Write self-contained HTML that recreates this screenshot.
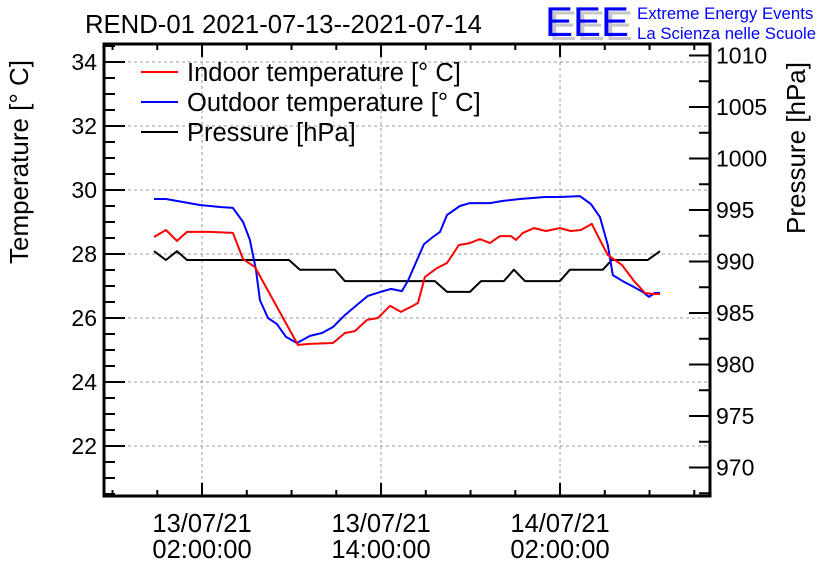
<!DOCTYPE html>
<html><head><meta charset="utf-8"><style>
body{margin:0;background:#fff;}
svg{display:block;font-family:"Liberation Sans",Arial,sans-serif;}
</style></head><body>
<svg id="chart" width="836" height="572" viewBox="0 0 836 572">
<text x="85" y="33" font-size="25.7">REND-01 2021-07-13--2021-07-14</text>
<g>
<text x="549" y="40" font-size="42" fill="#c8c8c8" textLength="84" lengthAdjust="spacingAndGlyphs">EEE</text>
<text x="545" y="36" font-size="42" fill="#0000ff" textLength="84" lengthAdjust="spacingAndGlyphs">EEE</text>
<text x="637" y="19" font-size="16.8" fill="#0000ff">Extreme Energy Events</text>
<text x="637" y="39" font-size="16.8" fill="#0000ff">La Scienza nelle Scuole</text>
</g>
<g id="grid"></g>
<g id="series"></g>
<g id="axes"></g>
<text transform="translate(28,162) rotate(-90)" text-anchor="middle" font-size="26">Temperature [° C]</text>
<text transform="translate(805,148) rotate(-90)" text-anchor="middle" font-size="26">Pressure [hPa]</text>
<g>
<line x1="141" y1="72" x2="178" y2="72" stroke="#ff0000" stroke-width="2"/>
<text x="187" y="81" font-size="25.5">Indoor temperature [° C]</text>
<line x1="141" y1="102" x2="178" y2="102" stroke="#0000ff" stroke-width="2"/>
<text x="187" y="111" font-size="25.5">Outdoor temperature [° C]</text>
<line x1="141" y1="132" x2="178" y2="132" stroke="#000" stroke-width="2"/>
<text x="187" y="141" font-size="25.5">Pressure [hPa]</text>
</g>
</svg>
<script>
// hours since 2021-07-13 00:00
const indoorTimes=[-1.22,-0.42,0.32,0.99,2.53,4.07,4.75,5.55,8.43,9.24,10.78,11.58,12.25,13.06,13.79,14.6,15.33,16.14,16.47,16.94,17.75,18.42,19.22,19.96,20.63,21.3,21.97,22.71,23.05,23.51,24.25,25.05,25.99,26.72,27.4,28.13,28.67,29.2,30.15,30.95,31.7,32.23,32.7];
const indoorTemps=[28.53,28.75,28.41,28.69,28.69,28.66,27.84,27.59,25.16,25.19,25.22,25.53,25.59,25.94,26.0,26.38,26.19,26.38,26.47,27.28,27.56,27.72,28.28,28.34,28.47,28.34,28.56,28.56,28.44,28.66,28.81,28.72,28.81,28.72,28.75,28.94,28.44,27.97,27.66,27.16,26.78,26.75,26.75];
const outdoorTimes=[-1.22,-0.42,1.86,3.2,4.07,4.75,5.21,5.62,5.88,6.42,7.02,7.63,8.36,9.24,10.04,10.78,11.58,12.39,13.12,13.93,14.66,15.4,15.8,16.88,17.48,17.95,18.42,19.29,19.96,21.3,22.17,23.31,24.99,25.99,27.33,28.07,28.67,29.2,29.54,30.28,30.95,31.56,31.96,32.36,32.7];
const outdoorTemps=[29.72,29.72,29.53,29.47,29.44,29.0,28.44,27.5,26.56,26.0,25.81,25.41,25.22,25.44,25.53,25.72,26.09,26.41,26.69,26.81,26.91,26.84,27.16,28.31,28.53,28.69,29.22,29.5,29.59,29.59,29.66,29.72,29.78,29.78,29.81,29.56,29.16,28.28,27.34,27.13,26.97,26.81,26.66,26.78,26.78];
const pressureTimes=[-1.22,-0.42,0.32,0.99,7.83,8.56,10.91,11.58,17.61,18.42,19.96,20.7,22.24,22.91,23.65,25.99,26.66,28.87,29.47,31.88,32.7];
const pressureValues=[991,990.15,991,990.15,990.15,989.2,989.2,988.1,988.1,987.05,987.05,988.1,988.1,989.2,988.1,988.1,989.2,989.2,990.15,990.15,991];
const tempTicks=[22,24,26,28,30,32,34];
const pressTicks=[970,975,980,985,990,995,1000,1005,1010];
const timeTicks=[2,14,26];
const timeTickDates=["13/07/21","13/07/21","14/07/21"];
const timeTickTimes=["02:00:00","14:00:00","02:00:00"];

const L=104,R=710,T=44,B=496;
const xS=t=>172.2+t*179/12;
const yT=v=>254-(v-28)*32;
const yP=p=>261.5-(p-990)*10.3;
const NS='http://www.w3.org/2000/svg';
function mk(parent,tag,attrs){const e=document.createElementNS(NS,tag);for(const k in attrs)e.setAttribute(k,attrs[k]);parent.appendChild(e);return e;}
const grid=document.getElementById('grid'),axes=document.getElementById('axes'),series=document.getElementById('series');

tempTicks.forEach(v=>{const g=mk(grid,'line',{x1:L,x2:R,y1:yT(v),y2:yT(v),stroke:'#999','stroke-dasharray':'3,3','stroke-width':1});

});
timeTicks.forEach(t=>{const g=mk(grid,'line',{x1:xS(t),x2:xS(t),y1:T,y2:B,stroke:'#999','stroke-dasharray':'3,3','stroke-width':1});

});

function path(times,vals,yf,color,name){
  const d=times.map((t,i)=>(i?'L':'M')+xS(t).toFixed(1)+','+yf(vals[i]).toFixed(1)).join('');
  const p=mk(series,'path',{d:d,fill:'none',stroke:color,'stroke-width':2,'stroke-linejoin':'round'});
  
  
}
path(pressureTimes,pressureValues,yP,'#000','pressure-line');
path(outdoorTimes,outdoorTemps,yT,'#0000ff','outdoor-temperature-line');
path(indoorTimes,indoorTemps,yT,'#ff0000','indoor-temperature-line');

const frame=mk(axes,'rect',{x:L,y:T,width:R-L,height:B-T,fill:'none',stroke:'#000','stroke-width':3});


for(let v=20.5;v<=34.5;v+=0.5){const y=yT(v);if(y<T||y>B)continue;const maj=Math.abs(v%2)<1e-6;
  mk(axes,'line',{x1:L,x2:L+(maj?21:11),y1:y,y2:y,stroke:'#000','stroke-width':2});}
tempTicks.forEach(v=>{const t=mk(axes,'text',{x:97,y:yT(v)+8,'text-anchor':'end','font-size':23});t.textContent=v;

});
for(let p=967.5;p<=1012.5;p+=2.5){const y=yP(p);if(y<T||y>B)continue;const maj=Math.abs(p%5)<1e-6;
  mk(axes,'line',{x1:R,x2:R-(maj?21:11),y1:y,y2:y,stroke:'#000','stroke-width':2});}
pressTicks.forEach(p=>{const t=mk(axes,'text',{x:716,y:yP(p)+8,'font-size':23});t.textContent=p;

});
for(let t=-4;t<=36;t+=3){const x=xS(t);if(x<L||x>R)continue;const maj=((t-2)%12+12)%12===0;const len=maj?13:6;
  mk(axes,'line',{x1:x,x2:x,y1:B,y2:B-len,stroke:'#000','stroke-width':2});
  mk(axes,'line',{x1:x,x2:x,y1:T,y2:T+len,stroke:'#000','stroke-width':2});}
timeTicks.forEach((t,i)=>{
  const a=mk(axes,'text',{x:xS(t),y:532,'text-anchor':'middle','font-size':25.5});a.textContent=timeTickDates[i];
  
  
  const b=mk(axes,'text',{x:xS(t),y:558,'text-anchor':'middle','font-size':25.5});b.textContent=timeTickTimes[i];
  
  
});
</script>
</body></html>
